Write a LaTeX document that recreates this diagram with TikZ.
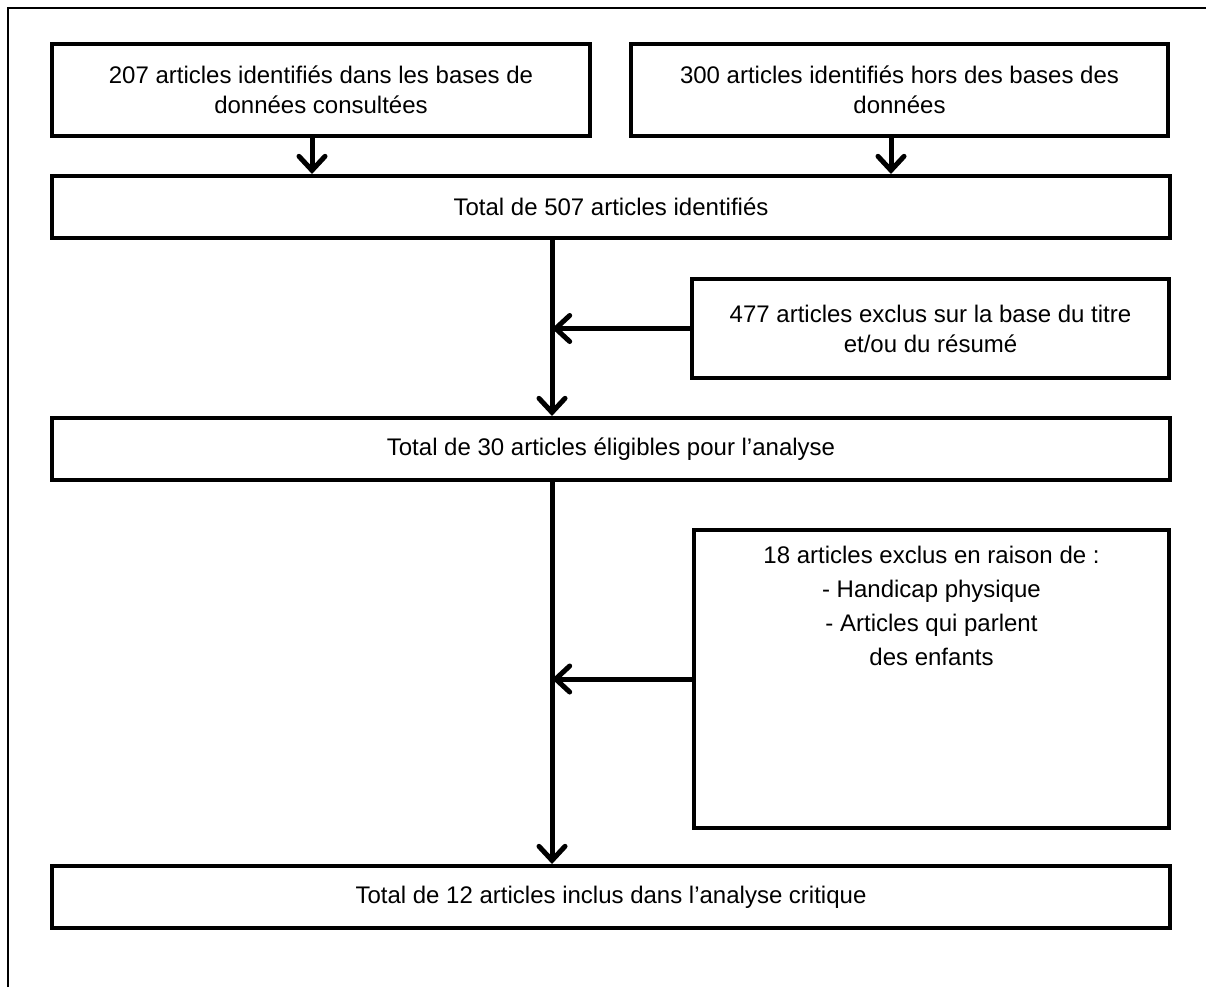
\documentclass[tikz,border=0pt]{standalone}
\usepackage{fontspec}
\setmainfont{Liberation Sans}
\usetikzlibrary{arrows.meta}

\tikzset{
  stagebox/.style={draw, line width=2pt, align=center, inner sep=0pt,
    font=\fontsize{12}{15}\selectfont},
  flowarrow/.style={line width=2.5pt,
    -{Straight Barb[length=7pt, width=13pt, line cap=round]}}
}

\begin{document}
\begin{tikzpicture}[x=0.5pt, y=-0.5pt]
    \useasboundingbox (0,0) rectangle (1206,987);
    % frame
    \draw[line width=0.8pt] (8,987) -- (8,8) -- (1206,8);

    % Identification
    \node[stagebox, minimum width=269pt, minimum height=46pt] (src1) at (321,90)
      {207 articles identifiés dans les bases de\\données consultées};
    \node[stagebox, minimum width=268.5pt, minimum height=46pt] (src2) at (899.5,90)
      {300 articles identifiés hors des bases des\\données};
    \node[stagebox, minimum width=559pt, minimum height=31pt] (tot1) at (611,207)
      {Total de 507 articles identifiés};

    % Screening
    \node[stagebox, minimum width=238.5pt, minimum height=49.5pt] (excl1) at (930.5,328.5)
      {477 articles exclus sur la base du titre\\et/ou du résumé};
    \node[stagebox, minimum width=559pt, minimum height=31pt] (tot2) at (611,449)
      {Total de 30 articles éligibles pour l’analyse};

    % Eligibility
    \node[draw, line width=2pt, minimum width=237.5pt, minimum height=149pt] (excl2) at (931.5,679) {};
    \node[anchor=north, align=center, inner sep=0pt, font=\fontsize{12}{17}\selectfont] (excl2txt) at (931.5,546)
      {18 articles exclus en raison de :\\- Handicap physique\\- Articles qui parlent\\des enfants};

    % Included
    \node[stagebox, minimum width=559pt, minimum height=31pt] (tot3) at (611,897)
      {Total de 12 articles inclus dans l’analyse critique};

    \coordinate (trunk) at (552,0);
    \draw[flowarrow] ([xshift=-4.5pt]src1.south) -- ([xshift=-4.5pt]src1.south |- tot1.north);
    \draw[flowarrow] ([xshift=-4.25pt]src2.south) -- ([xshift=-4.25pt]src2.south |- tot1.north);
    \draw[flowarrow] (tot1.south -| trunk) -- (tot2.north -| trunk);
    \draw[flowarrow] (excl1.west) -- (excl1.west -| trunk);
    \draw[flowarrow] (tot2.south -| trunk) -- (tot3.north -| trunk);
    \draw[flowarrow] (excl2.west) -- (excl2.west -| trunk);
  \end{tikzpicture}
\end{document}
